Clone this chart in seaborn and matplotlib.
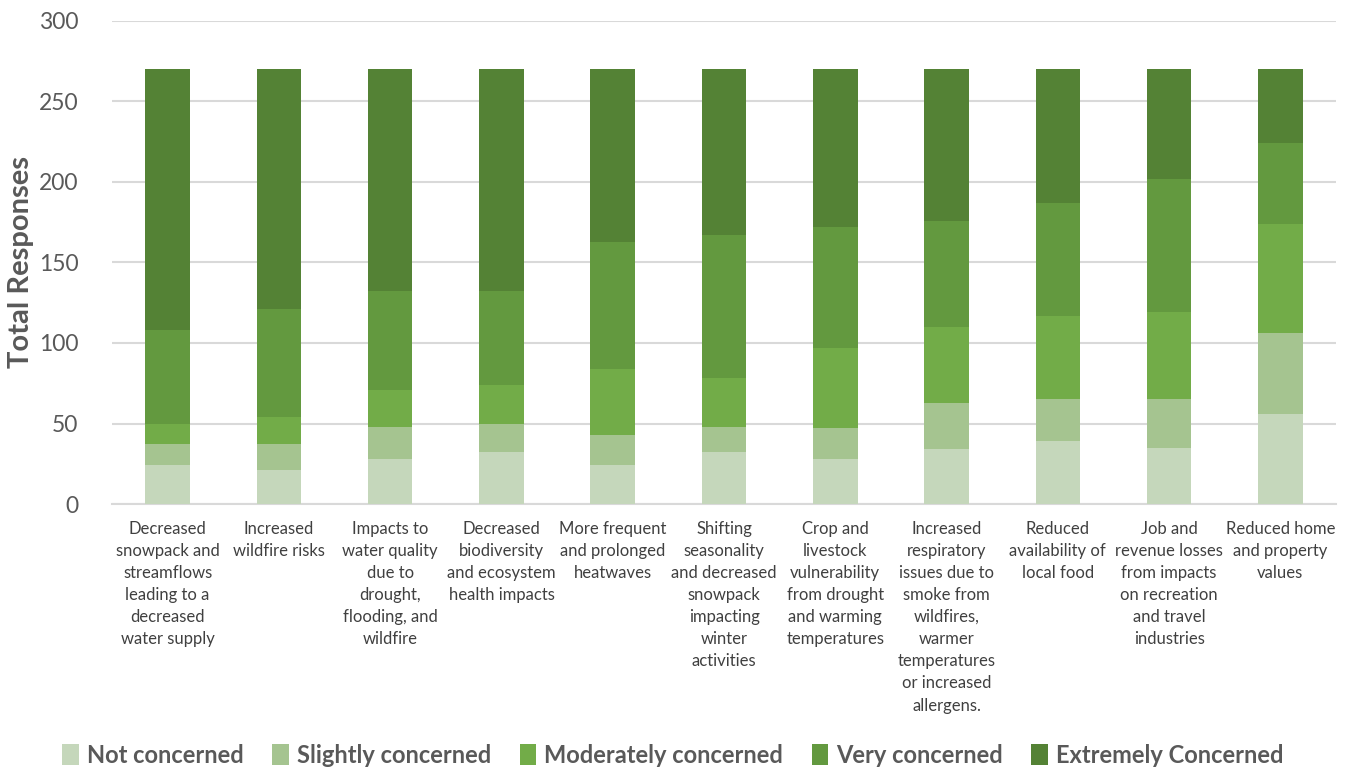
import matplotlib
matplotlib.use("Agg")
import matplotlib.pyplot as plt
from matplotlib.patches import Patch
import numpy as np
import pandas as pd
import seaborn as sns

# Survey impacts (x categories)
impacts = [
    "Decreased\nsnowpack and\nstreamflows\nleading to a\ndecreased\nwater supply",
    "Increased\nwildfire risks",
    "Impacts to\nwater quality\ndue to\ndrought,\nflooding, and\nwildfire",
    "Decreased\nbiodiversity\nand ecosystem\nhealth impacts",
    "More frequent\nand prolonged\nheatwaves",
    "Shifting\nseasonality\nand decreased\nsnowpack\nimpacting\nwinter\nactivities",
    "Crop and\nlivestock\nvulnerability\nfrom drought\nand warming\ntemperatures",
    "Increased\nrespiratory\nissues due to\nsmoke from\nwildfires,\nwarmer\ntemperatures\nor increased\nallergens.",
    "Reduced\navailability of\nlocal food",
    "Job and\nrevenue losses\nfrom impacts\non recreation\nand travel\nindustries",
    "Reduced home\nand property\nvalues",
]

# Response counts per concern level
not_concerned = [24, 21, 28, 32, 24, 32, 28, 34, 39, 35, 56]
slightly_concerned = [13, 16, 20, 18, 19, 16, 19, 29, 26, 30, 50]
moderately_concerned = [13, 17, 23, 24, 41, 30, 50, 47, 52, 54, 68]
very_concerned = [58, 67, 61, 58, 79, 89, 75, 66, 70, 83, 50]
extremely_concerned = [162, 149, 138, 138, 107, 103, 98, 94, 83, 68, 46]

levels = ["Not concerned", "Slightly concerned", "Moderately concerned",
          "Very concerned", "Extremely Concerned"]
colors = ["#C5D7BB", "#A5C490", "#72AC48", "#63993F", "#548235"]

series = [not_concerned, slightly_concerned, moderately_concerned,
          very_concerned, extremely_concerned]

df = pd.DataFrame({"impact": impacts})
cum = np.zeros(len(impacts))
for name, vals in zip(levels, series):
    cum = cum + np.array(vals)
    df[name] = cum.copy()

sns.set_theme(style="white")
plt.rcParams["font.family"] = ["Lato", "DejaVu Sans"]

fig = plt.figure(figsize=(13.46, 7.69), dpi=100)
ax = fig.add_axes([0.0832, 0.3446, 0.9094, 0.6281])

# Stack by drawing cumulative totals from the top layer down
for name, color in reversed(list(zip(levels, colors))):
    sns.barplot(data=df, x="impact", y=name, color=color, width=0.4,
                saturation=1, linewidth=0, edgecolor="none", ax=ax, zorder=3)

ax.set_ylim(0, 300)
ax.set_xlim(-0.5, len(impacts) - 0.5)
ax.set_yticks(range(0, 301, 50))
ax.yaxis.grid(True, color="#D9D9D9", linewidth=1.5, zorder=0)
ax.set_axisbelow(True)
for s in ["top", "right", "left"]:
    ax.spines[s].set_visible(False)
ax.spines["bottom"].set_color("#D9D9D9")
ax.spines["bottom"].set_linewidth(1.5)

ax.tick_params(axis="y", length=0, labelsize=16.5, labelcolor="#595959", pad=24)
ax.tick_params(axis="x", length=0, labelsize=12, labelcolor="#404040", pad=12)
for lab in ax.get_xticklabels():
    lab.set_linespacing(1.47)
    lab.set_verticalalignment("top")
    lab.set_horizontalalignment("center")

ax.set_xlabel("")
ax.set_ylabel("Total Responses", fontsize=21, fontweight="bold",
              color="#595959")
ax.yaxis.set_label_coords(-0.064, 0.5)

handles = [Patch(facecolor=c, edgecolor="none", label=l)
           for l, c in zip(levels, colors)]
leg = fig.legend(handles=handles, loc="center", bbox_to_anchor=(0.5, 0.018),
                 ncol=5, frameon=False, handlelength=0.7, handleheight=1.0,
                 handletextpad=0.35, columnspacing=1.2,
                 prop={"size": 17, "weight": "bold"})
for t in leg.get_texts():
    t.set_color("#595959")

fig.savefig("out.png", dpi=100)
